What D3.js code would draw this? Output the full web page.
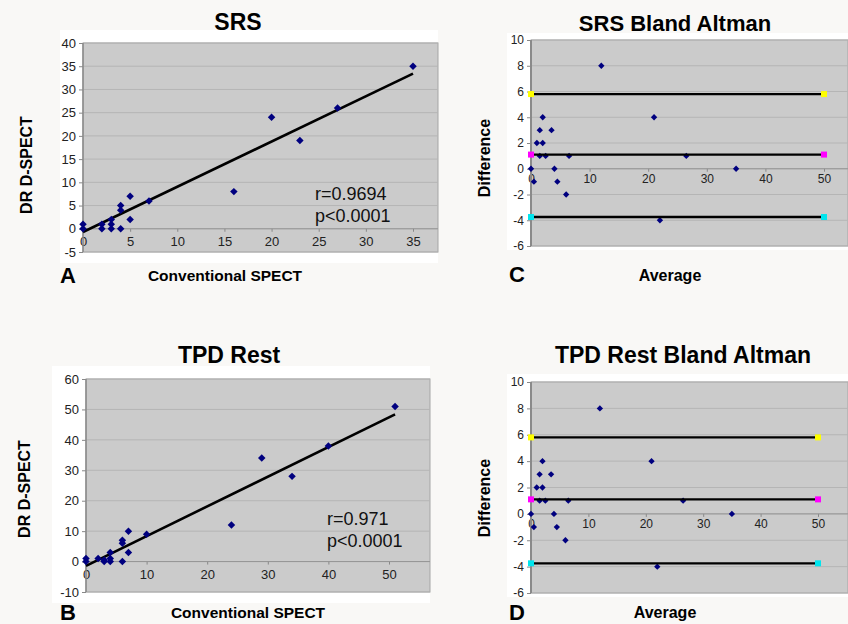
<!DOCTYPE html>
<html lang="en">
<head>
<meta charset="UTF-8">
<title>SRS / TPD Rest - DR D-SPECT vs Conventional SPECT</title>
<script src="https://d3js.org/d3.v7.min.js"></script>
<style>
    body { margin: 0; background: #f9f8f6; }
    svg { display: block; font-family: "Liberation Sans", Arial, sans-serif; }
    .tick text { fill: #222; }
    .tick line { stroke: #888; }
</style>
</head>
<body>
<div id="chart"></div>
<script>
// ---- data ----
// SRS: conventional SPECT vs DR D-SPECT
const srsConv = [0, 0, 2, 2, 3, 3, 3, 4, 4, 4, 5, 5, 7, 16, 20, 23, 27, 35];
const srsDr   = [0, 1, 0, 1, 0, 1, 2, 0, 4, 5, 2, 7, 6, 8, 24, 19, 26, 35];
const srsFit  = [[0, -0.7], [35, 33.4]];
const srsXTicks = [0, 5, 10, 15, 20, 25, 30, 35];
const srsYTicks = [-5, 0, 5, 10, 15, 20, 25, 30, 35, 40];

// TPD Rest
const tpdConv = [0, 0, 2, 3, 3, 4, 4, 4, 6, 6, 6, 7, 7, 10, 24, 29, 34, 40, 51];
const tpdDr   = [0, 1, 1, 0, 0.5, 0, 1, 3, 0, 6, 7, 3, 10, 9, 12, 34, 28, 38, 51];
const tpdFit  = [[0, -1.4], [51, 48.4]];
const tpdXTicks = [0, 10, 20, 30, 40, 50];
const tpdYTicks = [-10, 0, 10, 20, 30, 40, 50, 60];

// Bland Altman (same points in both panels)
const baAverage = [0, 0.5, 1, 1.5, 1.5, 2, 2, 2.5, 3.5, 4, 4.5, 6, 6.5, 12, 21, 22, 26.5, 35];
const baDiff    = [0, -1, 2, 1, 3, 4, 2, 1, 3, 0, -1, -2, 1, 8, 4, -4, 1, 0];
const baLimits  = [5.8, 1.1, -3.75];
const baLimitColors = ["#ffff00", "#ff00ff", "#00e5ee"];
const baLineX   = [0, 50];
const baXTicks  = [0, 10, 20, 30, 40, 50];
const baYTicks  = [-6, -4, -2, 0, 2, 4, 6, 8, 10];

const svg = d3.select("#chart").append("svg")
    .attr("width", 848)
    .attr("height", 624);

const gridColor = "#b5b5b5";
const plotColor = "#cbcbcb";
const markColor = "#00007f";

function frame(p) {
    // white chart area
    svg.append("rect")
        .attr("x", p.chart[0]).attr("y", p.chart[1])
        .attr("width", p.chart[2]).attr("height", p.chart[3])
        .attr("fill", "#fff");
    // gray plot area
    svg.append("rect")
        .attr("x", p.plot[0]).attr("y", p.plot[1])
        .attr("width", p.plot[2] - p.plot[0]).attr("height", p.plot[3] - p.plot[1])
        .attr("fill", plotColor)
        .attr("stroke", "#a5a5a5")
        .attr("stroke-width", 1);
}

function axes(p, x, y, xTicks, yTicks) {
    // horizontal gridlines
    svg.append("g")
        .selectAll("line")
        .data(yTicks)
        .join("line")
        .attr("x1", p.plot[0]).attr("x2", p.plot[2])
        .attr("y1", d => y(d)).attr("y2", d => y(d))
        .attr("stroke", gridColor)
        .attr("stroke-width", 1);

    const gy = svg.append("g")
        .attr("transform", `translate(${x(0)},0)`)
        .call(d3.axisLeft(y).tickValues(yTicks).tickSize(4).tickPadding(3).tickFormat(d => String(d)));
    gy.select(".domain").remove();
    gy.selectAll("text").attr("font-size", p.tickSize);

    const gx = svg.append("g")
        .attr("transform", `translate(0,${y(0)})`)
        .call(d3.axisBottom(x).tickValues(xTicks).tickSize(3).tickPadding(p.xPad).tickFormat(d => String(d)));
    gx.select(".domain").remove();
    gx.selectAll("text").attr("font-size", p.tickSize);

    // axis lines
    svg.append("line")
        .attr("x1", p.plot[0]).attr("x2", p.plot[2])
        .attr("y1", y(0)).attr("y2", y(0))
        .attr("stroke", "#959595").attr("stroke-width", 1);
    svg.append("line")
        .attr("x1", x(0)).attr("x2", x(0))
        .attr("y1", p.plot[1]).attr("y2", p.plot[3])
        .attr("stroke", "#8a8a8a").attr("stroke-width", p.yAxisWidth);
}

function labels(p) {
    svg.append("text")
        .attr("x", p.title[0]).attr("y", p.title[1])
        .attr("text-anchor", "middle")
        .attr("font-weight", "bold")
        .attr("font-size", p.titleSize)
        .text(p.titleText);
    svg.append("text")
        .attr("x", p.xLabel[0]).attr("y", p.xLabel[1])
        .attr("text-anchor", "middle")
        .attr("font-weight", "bold")
        .attr("font-size", p.labelSize)
        .text(p.xLabelText);
    svg.append("text")
        .attr("transform", `translate(${p.yLabel[0]},${p.yLabel[1]}) rotate(-90)`)
        .attr("text-anchor", "middle")
        .attr("font-weight", "bold")
        .attr("font-size", 16)
        .text(p.yLabelText);
    svg.append("text")
        .attr("x", p.letter[0]).attr("y", p.letter[1])
        .attr("font-weight", "bold")
        .attr("font-size", 22)
        .text(p.letterText);
}

function drawScatter(p, xs, ys, fit, xTicks, yTicks, stats) {
    const x = d3.scaleLinear().domain(p.xDomain).range(p.xRange);
    const y = d3.scaleLinear().domain(p.yDomain).range(p.yRange);
    frame(p);
    axes(p, x, y, xTicks, yTicks);

    svg.append("path")
        .datum(fit)
        .attr("d", d3.line().x(d => x(d[0])).y(d => y(d[1])))
        .attr("stroke", "#000")
        .attr("stroke-width", 2.6)
        .attr("fill", "none");

    const pts = xs.map((v, i) => [v, ys[i]]);
    svg.append("g")
        .selectAll("path")
        .data(pts)
        .join("path")
        .attr("d", d3.symbol(d3.symbolSquare, 28))
        .attr("transform", d => `translate(${x(d[0])},${y(d[1])}) rotate(45)`)
        .attr("fill", markColor);

    svg.append("g")
        .selectAll("text")
        .data(stats)
        .join("text")
        .attr("x", p.stats[0])
        .attr("y", (d, i) => p.stats[1] + i * 22)
        .attr("font-size", 18)
        .attr("fill", "#111")
        .text(d => d);

    labels(p);
}

function drawBA(p) {
    const x = d3.scaleLinear().domain(p.xDomain).range(p.xRange);
    const y = d3.scaleLinear().domain(p.yDomain).range(p.yRange);
    frame(p);
    axes(p, x, y, baXTicks, baYTicks);

    const pts = baAverage.map((v, i) => [v, baDiff[i]]);
    svg.append("g")
        .selectAll("path")
        .data(pts)
        .join("path")
        .attr("d", d3.symbol(d3.symbolSquare, 20))
        .attr("transform", d => `translate(${x(d[0])},${y(d[1])}) rotate(45)`)
        .attr("fill", markColor);

    baLimits.forEach((lim, k) => {
        svg.append("line")
            .attr("x1", x(baLineX[0])).attr("x2", x(baLineX[1]))
            .attr("y1", y(lim)).attr("y2", y(lim))
            .attr("stroke", "#000")
            .attr("stroke-width", 2.4);
        svg.append("g")
            .selectAll("rect")
            .data(baLineX)
            .join("rect")
            .attr("x", d => x(d) - 3)
            .attr("y", y(lim) - 3)
            .attr("width", 6)
            .attr("height", 6)
            .attr("fill", baLimitColors[k]);
    });

    labels(p);
}

drawScatter({
    chart: [60, 30, 378, 233], plot: [83, 43, 438, 252],
    xDomain: [0, 35], xRange: [83, 413], yDomain: [-5, 40], yRange: [252, 43],
    tickSize: 13, xPad: 5, yAxisWidth: 1.5,
    title: [238, 30], titleText: "SRS", titleSize: 23,
    xLabel: [225, 281], xLabelText: "Conventional SPECT", labelSize: 15.5,
    yLabel: [32, 165], yLabelText: "DR D-SPECT",
    letter: [60, 283], letterText: "A",
    stats: [315, 200]
}, srsConv, srsDr, srsFit, srsXTicks, srsYTicks, ["r=0.9694", "p<0.0001"]);

drawScatter({
    chart: [52, 366, 378, 237], plot: [86, 379, 430, 592],
    xDomain: [0, 50], xRange: [86, 389], yDomain: [-10, 60], yRange: [592, 379],
    tickSize: 13, xPad: 5, yAxisWidth: 1.5,
    title: [229, 363], titleText: "TPD Rest", titleSize: 23,
    xLabel: [248, 618], xLabelText: "Conventional SPECT", labelSize: 15.5,
    yLabel: [29.5, 489], yLabelText: "DR D-SPECT",
    letter: [60, 620], letterText: "B",
    stats: [327, 525]
}, tpdConv, tpdDr, tpdFit, tpdXTicks, tpdYTicks, ["r=0.971", "p<0.0001"]);

drawBA({
    chart: [507, 33, 341, 217], plot: [531, 40, 848, 246],
    xDomain: [0, 50], xRange: [531, 824], yDomain: [-6, 10], yRange: [246, 40],
    tickSize: 12, xPad: 3, yAxisWidth: 2,
    title: [675, 31], titleText: "SRS Bland Altman", titleSize: 22,
    xLabel: [670, 281], xLabelText: "Average", labelSize: 16,
    yLabel: [490, 158], yLabelText: "Difference",
    letter: [509, 282], letterText: "C"
});

drawBA({
    chart: [507, 374, 341, 223], plot: [531, 382, 848, 593],
    xDomain: [0, 50], xRange: [531, 818], yDomain: [-6, 10], yRange: [593, 382],
    tickSize: 12, xPad: 3, yAxisWidth: 2,
    title: [683, 363], titleText: "TPD Rest Bland Altman", titleSize: 23,
    xLabel: [665, 618], xLabelText: "Average", labelSize: 16,
    yLabel: [490, 498], yLabelText: "Difference",
    letter: [509, 620], letterText: "D"
});
</script>
</body>
</html>
